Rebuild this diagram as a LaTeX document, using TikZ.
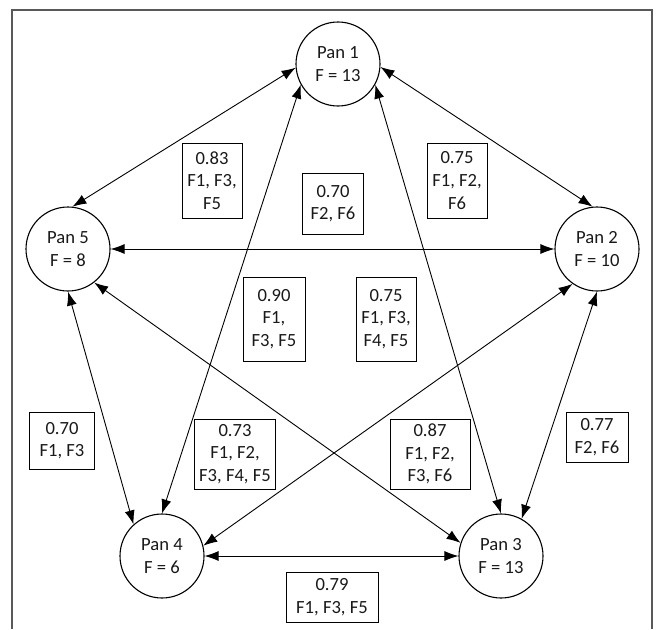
\documentclass[tikz,border=0pt]{standalone}
\usepackage{fontspec}
\setmainfont{Carlito}
\usetikzlibrary{arrows.meta}
\begin{document}
\begin{tikzpicture}[x=1pt,y=-1pt,
  txt/.style={font=\fontsize{18.6}{22.6}\selectfont, text=black!90},
  pan/.style={txt, circle, draw, line width=1.1pt, minimum size=84pt, inner sep=0pt, align=center},
  lbl/.style={txt, rectangle, draw, line width=1pt, inner sep=0pt, align=center},
  link/.style={{Latex[length=14pt,width=10pt]}-{Latex[length=14pt,width=10pt]}, line width=0.9pt},
  frame/.style={draw=black!65, line width=1.3pt}]
\useasboundingbox (0,0) rectangle (660,629);
\draw[frame] (12,629) -- (12,10) -- (652,10) -- (652,629);

\node[pan] (p1) at (338,64) {Pan 1\\F = 13};
\node[pan] (p2) at (597,249) {Pan 2\\F = 10};
\node[pan] (p3) at (501,556) {Pan 3\\F = 13};
\node[pan] (p4) at (162,556) {Pan 4\\F = 6};
\node[pan] (p5) at (68,249) {Pan 5\\F = 8};

\draw[link] (p1.185) -- (p5.84);
\draw[link] (p1.356) -- (p2.96);
\draw[link] (p1.209) -- (p4.90);
\draw[link] (p1.331) -- (p3.90);
\draw[link] (p5.0) -- (p2.180);
\draw[link] (p5.270) -- (p4.132);
\draw[link] (p5.308) -- (p3.162);
\draw[link] (p2.235) -- (p4.14);
\draw[link] (p2.270) -- (p3.61);
\draw[link] (p4.0) -- (p3.180);

\node[lbl, minimum width=60pt, minimum height=75pt] (b83) at (212,180.5) {0.83\\F1, F3,\\F5};
\node[lbl, minimum width=60pt, minimum height=75pt] (b75a) at (457,180.5) {0.75\\F1, F2,\\F6};
\node[lbl, minimum width=61pt, minimum height=61pt] (b70a) at (333,203.5) {0.70\\F2, F6};
\node[lbl, minimum width=62pt, minimum height=84pt] (b90) at (274,319) {0.90\\F1,\\F3, F5};
\node[lbl, minimum width=60pt, minimum height=84pt] (b75b) at (386,319) {0.75\\F1, F3,\\F4, F5};
\node[lbl, minimum width=65pt, minimum height=57pt] (b70b) at (62,440.5) {0.70\\F1, F3};
\node[lbl, minimum width=81pt, minimum height=70pt] (b73) at (235,454) {0.73\\F1, F2,\\F3, F4, F5};
\node[lbl, minimum width=80pt, minimum height=70pt] (b87) at (430,454) {0.87\\F1, F2,\\F3, F6};
\node[lbl, minimum width=62pt, minimum height=50pt] (b77) at (597,437) {0.77\\F2, F6};
\node[lbl, minimum width=92pt, minimum height=50pt] (b79) at (332,597) {0.79\\F1, F3, F5};
\end{tikzpicture}
\end{document}
